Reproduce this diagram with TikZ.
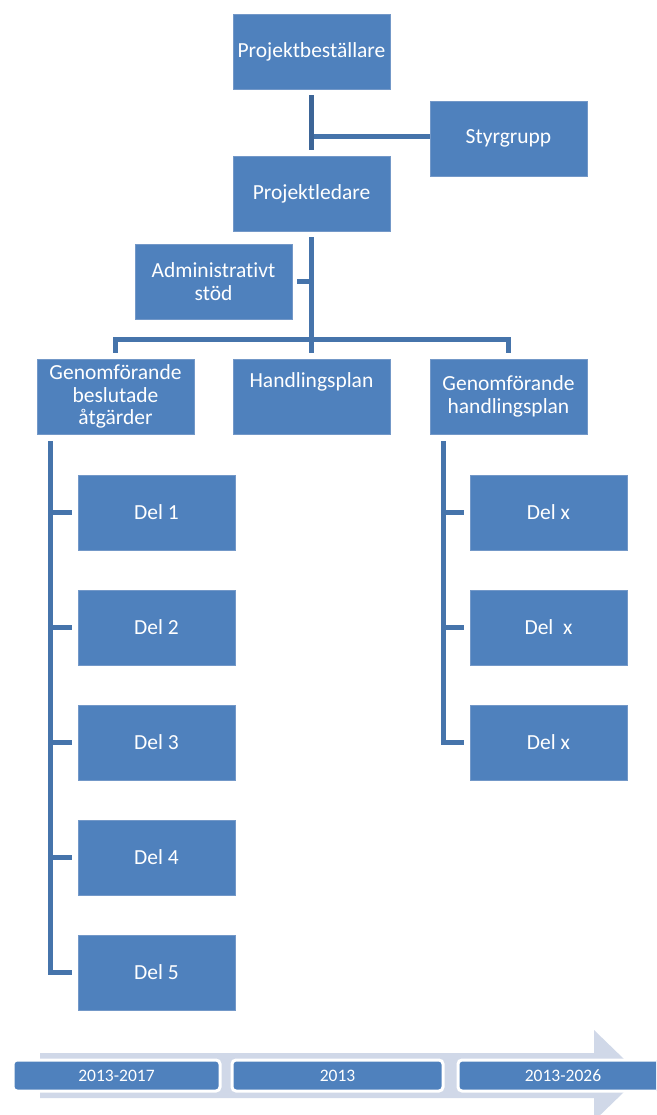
\documentclass[tikz,border=0pt]{standalone}
\usepackage{fontspec}
\setmainfont{Carlito}[Ligatures=NoCommon]
\definecolor{boxblue}{HTML}{4F81BD}
\definecolor{boxedge}{HTML}{7398C8}
\definecolor{linkblue}{HTML}{4674AB}
\definecolor{linkdark}{HTML}{3D6597}
\definecolor{bandfill}{HTML}{D0D8E8}
\tikzset{
  orgbox/.style={draw=boxedge, line width=0.8pt, fill=boxblue, text=white,
    minimum width=157pt, minimum height=75pt, inner sep=2pt, align=center,
    font=\fontsize{21.5}{22.5}\selectfont},
  conn/.style={draw=linkblue, line width=5pt},
  tlbox/.style={draw=white, line width=3pt, fill=boxblue, text=white,
    rounded corners=4pt, minimum height=31pt, inner sep=0pt,
    font=\fontsize{17.5}{20}\selectfont}
}
\begin{document}
\begin{tikzpicture}[x=1pt,y=-1pt]
\useasboundingbox (0,0) rectangle (656,1115);
% timeline band
\begin{scope}
\clip (0,0) rectangle (656,1115);
\fill[bandfill] (40,1053) -- (594,1053) -- (594,1030) -- (641,1075.5) -- (594,1121) -- (594,1098) -- (40,1098) -- cycle;
\node[tlbox, minimum width=207pt] (t1) at (116.5,1075.5) {2013-2017};
\node[tlbox, minimum width=211pt] (t2) at (337.5,1075.5) {2013};
\node[tlbox, minimum width=210pt] (t3) at (563,1075.5) {2013-2026};
\end{scope}
% boxes
\node[orgbox] (pb) at (311.5,51.5) {Projektbeställare};
\node[orgbox] (sg) at (508.5,138.5) {Styrgrupp};
\node[orgbox] (pl) at (311.5,193.5) {Projektledare};
\node[orgbox] (ad) at (213.5,281.5) {Administrativt\\stöd};
\node[orgbox] (gb) at (115.5,396.5) {Genomförande\\beslutade\\åtgärder};
\node[orgbox] (hp) at (311.5,396.5) {\raisebox{9.5pt}[0pt][0pt]{Handlingsplan}};
\node[orgbox] (gh) at (508.5,396.5) {Genomförande\\handlingsplan};
\foreach \i in {1,...,5} {
  \node[orgbox] (d\i) at (156.5,{512.5+115*(\i-1)}) {Del \i};
}
\node[orgbox] (x1) at (548.5,512.5) {Del x};
\node[orgbox] (x2) at (548.5,627.5) {Del\ \ x};
\node[orgbox] (x3) at (548.5,742.5) {Del x};
% connectors
\coordinate (j1) at (311.5,137);
\draw[conn] (j1) -- (j1 -| sg.west);
\draw[conn, draw=linkdark] ([yshift=-6pt]pb.south) -- ([yshift=6pt]pl.north);
\coordinate (bar) at (311.5,339);
\draw[conn] ([yshift=-6pt]pl.south) -- ([yshift=6pt]hp.north);
\draw[conn] ([xshift=5pt]ad.east) -- (ad.east -| pl.south);
\draw[conn] ([yshift=6pt]gb.north) |- (bar) -| ([yshift=6pt]gh.north);
% left spine
\coordinate (lt) at (50,441);
\coordinate (lb) at (50,975);
\draw[conn] (lt) -- (lb);
\foreach \i in {1,...,5} {
  \draw[conn] (lt |- d\i.west) -- ([xshift=-6pt]d\i.west);
}
% right spine
\coordinate (rt) at (443,441);
\coordinate (rb) at (443,745);
\draw[conn] (rt) -- (rb);
\foreach \i in {1,2,3} {
  \draw[conn] (rt |- x\i.west) -- ([xshift=-6pt]x\i.west);
}
\end{tikzpicture}
\end{document}
